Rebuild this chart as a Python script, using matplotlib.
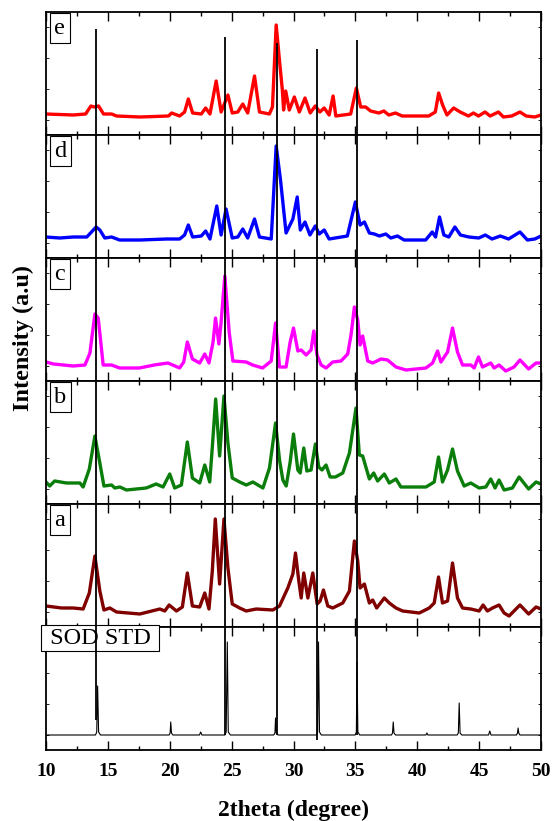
import matplotlib
matplotlib.use("Agg")
import matplotlib.pyplot as plt
from matplotlib.ticker import MultipleLocator

plt.rcParams["font.family"] = ["Liberation Serif", "DejaVu Serif"]

# ── data (2theta in degree, intensity in a.u.) ───────────────────────────
E_X = [10.0, 12.2, 13.2, 13.63, 13.9, 14.25, 14.65, 15.3, 15.7, 17.6,
       19.9, 20.15, 20.8, 21.2, 21.5, 21.85, 22.55, 22.9, 23.25, 23.75,
       24.15, 24.7, 25.05, 25.5, 25.9, 26.3, 26.85, 27.25, 28.05, 28.3,
       28.6, 28.9, 29.1, 29.2, 29.37, 29.66, 30.07, 30.47, 30.93, 31.35,
       31.76, 32.13, 32.48, 32.88, 33.2, 33.42, 34.62, 35.08, 35.43, 35.83,
       36.23, 36.9, 37.3, 37.7, 38.24, 38.78, 40.93, 41.46, 41.73, 42.05,
       42.4, 42.94, 43.47, 44.14, 44.54, 44.95, 45.48, 45.89, 46.56, 46.96,
       47.63, 48.3, 48.8, 49.5, 50.0]
E_Y = [21, 20, 21, 29, 28, 29, 21, 21, 19, 18,
       19, 22, 19, 23, 36, 22, 21, 27, 21, 54,
       23, 40, 22, 23, 31, 22, 59, 23, 21, 28,
       110, 70, 45, 25, 44, 25, 38, 23, 37, 22,
       29, 23, 27, 20, 39, 19, 21, 47, 28, 28,
       24, 22, 24, 20, 22, 19, 19, 23, 42, 30,
       20, 27, 23, 19, 22, 19, 23, 19, 23, 18,
       19, 23, 19, 18, 20]

D_X = [10.0, 11.1, 12.2, 13.3, 14.05, 14.35, 14.75, 15.3, 15.95, 17.6,
       19.75, 20.8, 21.2, 21.5, 21.85, 22.55, 22.9, 23.25, 23.8, 24.15,
       24.55, 25.05, 25.5, 25.9, 26.3, 26.85, 27.25, 28.2, 28.6, 28.95,
       29.4, 29.95, 30.3, 30.55, 30.93, 31.33, 31.76, 32.08, 32.48, 32.88,
       34.35, 35.0, 35.38, 35.73, 36.13, 36.53, 36.94, 37.46, 37.86, 38.4,
       38.94, 40.68, 41.21, 41.48, 41.8, 42.15, 42.55, 43.04, 43.49, 44.17,
       44.97, 45.5, 46.04, 46.71, 47.38, 48.3, 48.9, 49.5, 50.0]
D_Y = [21, 20, 21, 21, 31, 28, 20, 21, 18, 18,
       19, 19, 23, 33, 21, 22, 27, 19, 52, 23,
       49, 20, 21, 29, 20, 39, 21, 19, 112, 78,
       25, 39, 61, 28, 36, 23, 32, 24, 28, 19,
       22, 56, 33, 36, 25, 24, 22, 24, 20, 22,
       18, 18, 26, 21, 41, 23, 21, 31, 23, 21,
       20, 23, 19, 22, 19, 26, 18, 19, 22]

C_X = [10.0, 10.6, 12.2, 13.15, 13.55, 13.95, 14.22, 14.62, 15.3, 15.95,
       17.55, 18.75, 19.85, 20.8, 21.13, 21.42, 21.83, 22.42, 22.83, 23.17,
       23.5, 23.7, 23.97, 24.15, 24.45, 24.8, 25.1, 26.18, 26.7, 27.5,
       28.2, 28.55, 28.87, 29.4, 29.73, 30.0, 30.35, 30.62, 31.02, 31.42,
       31.64, 31.9, 32.23, 32.63, 33.17, 33.84, 34.38, 34.65, 34.92, 35.19,
       35.38, 35.59, 36.0, 36.4, 37.07, 37.6, 38.28, 39.09, 40.7, 41.24,
       41.64, 41.91, 42.45, 42.85, 43.25, 43.66, 44.33, 44.6, 44.95, 45.27,
       45.94, 46.21, 46.61, 47.15, 47.82, 48.3, 49.0, 49.6, 50.0]
C_Y = [19, 17, 15, 16, 28, 67, 63, 16, 16, 13,
       13, 16, 18, 13, 19, 39, 22, 18, 27, 18,
       39, 63, 37, 59, 105, 49, 20, 19, 16, 13,
       20, 58, 14, 14, 39, 53, 30, 31, 26, 31,
       50, 26, 16, 13, 19, 20, 27, 46, 74, 61,
       36, 45, 20, 18, 22, 21, 14, 11, 13, 18,
       30, 19, 29, 53, 29, 16, 16, 13, 24, 14,
       18, 13, 16, 10, 14, 21, 12, 18, 18]

B_X = [10.0, 10.3, 10.7, 11.65, 12.74, 13.0, 13.5, 13.95, 14.35, 14.68,
       15.3, 15.56, 15.97, 16.5, 18.1, 18.9, 19.46, 20.0, 20.4, 20.94,
       21.42, 21.83, 22.42, 22.83, 23.23, 23.44, 23.71, 24.03, 24.38, 24.7,
       25.05, 25.65, 26.18, 26.72, 27.53, 28.06, 28.55, 28.87, 29.14, 29.41,
       29.73, 30.0, 30.35, 30.54, 30.83, 31.08, 31.42, 31.77, 32.04, 32.3,
       32.63, 32.96, 33.39, 33.98, 34.52, 35.05, 35.32, 35.59, 36.13, 36.48,
       36.8, 37.34, 37.74, 38.28, 38.68, 39.62, 40.7, 41.37, 41.72, 42.04,
       42.45, 42.85, 43.25, 43.79, 44.33, 45.0, 45.54, 45.94, 46.29, 46.61,
       47.02, 47.69, 48.23, 49.0, 49.6, 50.0]
B_Y = [22, 18, 23, 21, 21, 17, 35, 68, 41, 18,
       19, 16, 17, 14, 16, 20, 17, 30, 16, 19,
       62, 26, 21, 39, 22, 57, 105, 48, 108, 61,
       26, 22, 19, 22, 16, 36, 81, 44, 24, 18,
       42, 70, 34, 31, 56, 33, 34, 60, 37, 34,
       39, 27, 27, 31, 51, 96, 49, 48, 25, 31,
       23, 30, 21, 25, 17, 17, 17, 22, 47, 22,
       34, 55, 33, 18, 21, 16, 17, 25, 16, 24,
       14, 16, 27, 15, 22, 20]

A_X = [10.0, 11.26, 12.2, 13.0, 13.5, 13.95, 14.35, 14.68, 15.16, 15.7,
       17.58, 19.2, 19.6, 19.95, 20.54, 21.02, 21.42, 21.83, 22.42, 22.83,
       23.17, 23.44, 23.68, 24.03, 24.38, 24.7, 25.05, 25.65, 26.18, 26.99,
       28.33, 28.87, 29.54, 29.95, 30.16, 30.43, 30.62, 30.83, 31.16, 31.56,
       31.91, 32.15, 32.42, 32.77, 33.17, 33.98, 34.52, 34.92, 35.19, 35.38,
       35.73, 36.13, 36.4, 36.72, 37.34, 37.74, 38.28, 38.82, 40.16, 40.97,
       41.37, 41.72, 42.04, 42.45, 42.85, 43.25, 43.66, 44.33, 45.0, 45.32,
       45.67, 46.08, 46.61, 47.02, 47.42, 48.3, 49.0, 49.6, 50.0]
A_Y = [21, 19, 19, 18, 34, 71, 36, 17, 19, 15,
       13, 18, 16, 22, 16, 20, 54, 21, 20, 34,
       18, 56, 108, 43, 108, 59, 23, 19, 16, 18,
       17, 21, 39, 53, 74, 46, 29, 54, 29, 54,
       23, 26, 37, 21, 19, 24, 36, 86, 66, 39,
       43, 24, 27, 19, 29, 24, 19, 16, 14, 19,
       24, 50, 24, 26, 64, 29, 19, 18, 16, 22,
       16, 19, 22, 14, 11, 22, 13, 20, 18]

SOD_X = [10.0, 14.0, 14.1, 14.17, 14.25, 14.4, 19.95, 20.03, 20.08, 20.14,
         20.25, 22.4, 22.5, 22.6, 24.45, 24.56, 24.65, 24.73, 24.9, 28.4,
         28.5, 28.55, 28.61, 28.75, 31.85, 31.95, 32.02, 32.1, 32.25, 34.98,
         35.08, 35.13, 35.2, 35.35, 37.92, 38.0, 38.06, 38.12, 38.25, 40.7,
         40.78, 40.86, 43.22, 43.32, 43.39, 43.46, 43.6, 45.76, 45.86, 45.96,
         48.02, 48.1, 48.15, 48.2, 48.3, 50.0]
SOD_Y = [15, 15, 18, 64, 18, 15, 15, 17, 28, 17,
         15, 15, 18, 15, 15, 18, 108, 18, 15, 15,
         17, 32, 17, 15, 15, 18, 108, 18, 15, 15,
         18, 88, 18, 15, 15, 17, 28, 17, 15, 15,
         17, 15, 15, 17, 47, 17, 15, 15, 19, 15,
         15, 17, 22, 17, 15, 15]

# reference reflections marked through all panels
REF_X = [14.0, 24.5, 28.65, 31.9, 35.15]

# top to bottom
PANELS = [
    ("e", E_X, E_Y, "#ff0000"),
    ("d", D_X, D_Y, "#0000ff"),
    ("c", C_X, C_Y, "#ff00ff"),
    ("b", B_X, B_Y, "#0a7d0a"),
    ("a", A_X, A_Y, "#800000"),
    ("SOD STD", SOD_X, SOD_Y, "black"),
]

# ── layout (pixels of a 552 x 821 canvas) ────────────────────────────────
W, H = 552, 821
LEFT, RIGHT, TOP, BOTTOM = 46, 541, 12, 750
PANEL_H = (BOTTOM - TOP) / len(PANELS)
# reference line ends, in bottom-panel units (pixels above its bottom)
REF_TOP = [721, 713, 707, 701, 710]
REF_BOT = [30, 15, 15, 10, 15]

fig = plt.figure(figsize=(W / 100, H / 100), dpi=100)
axes = []
for i, (name, xs, ys, color) in enumerate(PANELS):
    y_bottom_px = TOP + (i + 1) * PANEL_H
    ax = fig.add_axes([LEFT / W, 1 - y_bottom_px / H,
                       (RIGHT - LEFT) / W, PANEL_H / H])
    is_std = name == "SOD STD"
    ax.plot(xs, ys, color=color, lw=0.8 if is_std else 2.4,
            solid_joinstyle="round")
    ax.set_xlim(10, 50)
    ax.set_ylim(0, PANEL_H)
    ax.xaxis.set_major_locator(MultipleLocator(5))
    ax.xaxis.set_minor_locator(MultipleLocator(2.5))
    ax.set_yticks([15, 46, 77, 108])
    ax.tick_params(axis="x", which="major", direction="in", length=6.5,
                   width=1.0, top=True, bottom=True, labelbottom=is_std,
                   labelsize=14, pad=9)
    ax.tick_params(axis="x", which="minor", direction="in", length=3.2,
                   width=1.0, top=True, bottom=True)
    ax.tick_params(axis="y", direction="in", length=2, width=0.6,
                   left=True, right=True, labelleft=False)
    for lab in ax.get_xticklabels():
        lab.set_fontweight("bold")
    for sp in ax.spines.values():
        sp.set_linewidth(1.3)
    if is_std:
        ax.text(-0.005, 0.995, " SOD STD ", transform=ax.transAxes,
                ha="left", va="top", fontsize=17.5,
                bbox=dict(boxstyle="square,pad=0.1", fc="white",
                          ec="black", lw=0.8))
    else:
        ax.text(0.017, 0.955, name, transform=ax.transAxes,
                ha="left", va="top", fontsize=17.5,
                bbox=dict(boxstyle="square,pad=0.2", fc="white",
                          ec="black", lw=0.8))
    axes.append(ax)

# drop lines drawn from the bottom panel so they sit on top of every curve
axes[-1].vlines(REF_X, REF_BOT, REF_TOP, colors="black", lw=1.3,
                clip_on=False, zorder=10)

fig.text((LEFT + RIGHT) / 2 / W, 1 - 810 / H, "2theta (degree)",
         ha="center", va="center", fontsize=17, fontweight="bold")
fig.text(23 / W, 1 - 338 / H, "Intensity (a.u)", rotation=90,
         ha="center", va="center", fontsize=17.5, fontweight="bold")

fig.savefig("out.png", dpi=100)
